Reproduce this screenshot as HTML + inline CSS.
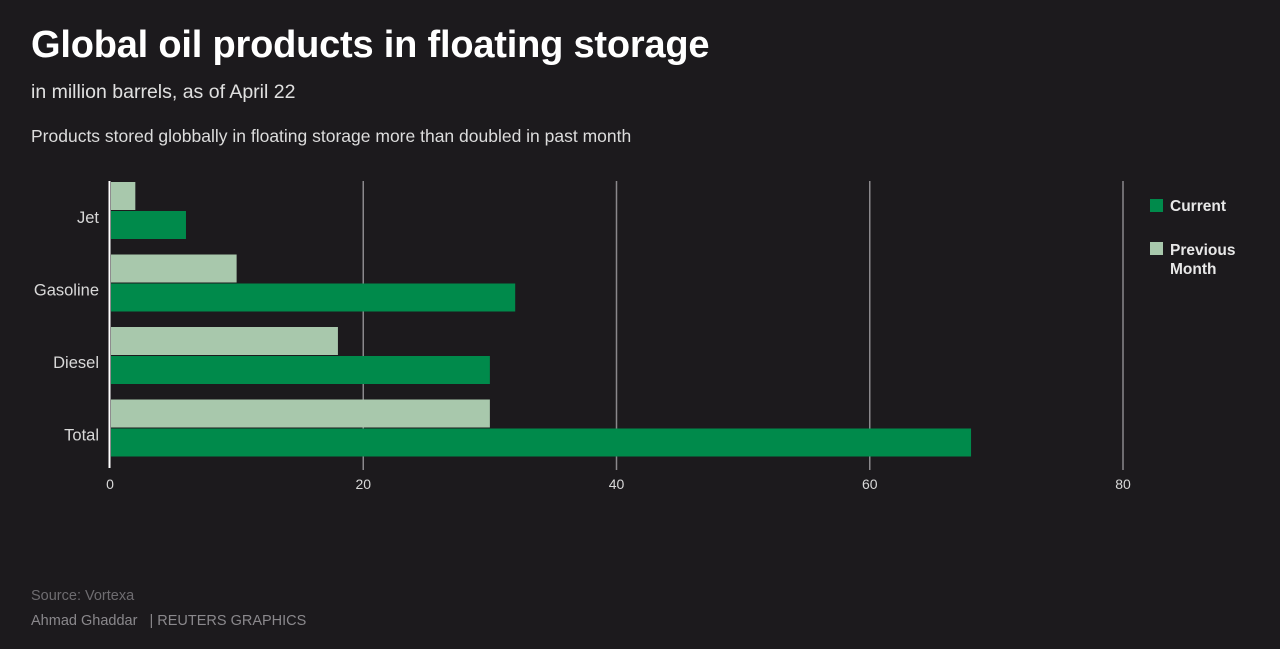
<!DOCTYPE html>
<html><head><meta charset="utf-8"><style>
body{margin:0;width:1280px;height:649px;background:#1c1a1d;font-family:"Liberation Sans",sans-serif;color:#fff;overflow:hidden;position:relative}
.t{position:absolute;white-space:nowrap}
</style></head><body>
<div class="t" style="left:31px;top:24px;font-size:38px;font-weight:bold;letter-spacing:-0.2px">Global oil products in floating storage</div>
<div class="t" style="left:31px;top:81px;font-size:19.5px;color:#e0e0e0">in million barrels, as of April 22</div>
<div class="t" style="left:31px;top:126px;font-size:17.5px;color:#dcdcdc">Products stored globbally in floating storage more than doubled in past month</div>
<svg id="c" width="1280" height="649" style="position:absolute;left:0;top:0"></svg>
<div class="t" style="left:31px;top:588px;font-size:14.5px;color:#6e6c70">Source: Vortexa</div>
<div class="t" style="left:31px;top:613px;font-size:14.5px;color:#8a888c">Ahmad Ghaddar &nbsp;&nbsp;| REUTERS GRAPHICS</div>
<script>
const categories=["Jet","Gasoline","Diesel","Total"];
const previous=[2,10,18,30];
const current=[6,32,30,68];
const ticks=[0,20,40,60,80];
const svg=document.getElementById('c');const NS='http://www.w3.org/2000/svg';
const x=v=>110+v*(1123-110)/80;
const rowTop=i=>182+i*72.5;
function mk(t,a){const e=document.createElementNS(NS,t);for(const k in a)e.setAttribute(k,a[k]);svg.appendChild(e);return e;}
ticks.forEach(v=>{if(v>0){const l=mk('line',{x1:x(v),x2:x(v),y1:181,y2:470,stroke:'#8a888c','stroke-width':1.5});

}
const t=mk('text',{x:x(v),y:489,'text-anchor':'middle',fill:'#d8d8d8','font-size':14,'font-family':'Liberation Sans,sans-serif'});t.textContent=v;

});
categories.forEach((c,i)=>{const y=rowTop(i);
const p=mk('rect',{x:111,y:y,width:x(previous[i])-111,height:28,fill:'#a8c8ac'});


const q=mk('rect',{x:111,y:y+29,width:x(current[i])-111,height:28,fill:'#008a4b'});


const t=mk('text',{x:99,y:y+41,'text-anchor':'end',fill:'#d8d8d8','font-size':16.5,'font-family':'Liberation Sans,sans-serif'});t.textContent=c;

});
const ax=mk('line',{x1:109.5,x2:109.5,y1:181,y2:468,stroke:'#fff','stroke-width':2});


const l1=mk('rect',{x:1150,y:199,width:13,height:13,fill:'#008a4b'});


const l2=mk('rect',{x:1150,y:242,width:13,height:13,fill:'#a8c8ac'});


[["Current",211],["Previous",255],["Month",274]].forEach(([s,y])=>{const t=mk('text',{x:1170,y:y,fill:'#e8e8e8','font-size':15.5,'font-weight':'bold','font-family':'Liberation Sans,sans-serif'});t.textContent=s;

});
</script>
</body></html>
